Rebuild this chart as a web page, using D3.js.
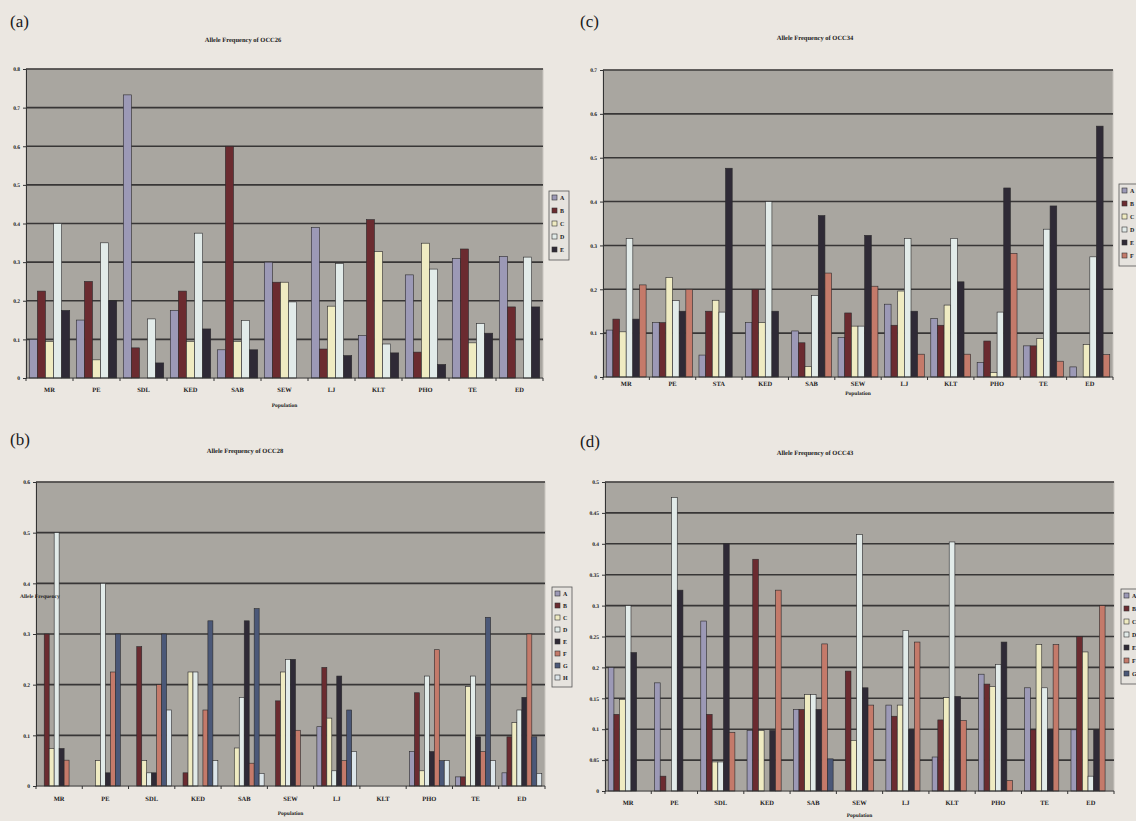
<!DOCTYPE html>
<html>
<head>
<meta charset="utf-8">
<script src="https://cdn.jsdelivr.net/npm/d3@7"></script>
<style>
  body { margin: 0; background: #ebe7e1; }
  svg { display: block; text-rendering: geometricPrecision; }
  text { font-family: "Liberation Serif", "DejaVu Serif", serif; fill: #1a1a1a; }
  .tick-label, .cat-label, .axis-title, .chart-title, .legend text { font-weight: bold; }
</style>
</head>
<body>
<div id="chart"></div>
<script>
// populations along the x axis
const populations = ['MR', 'PE', 'SDL', 'KED', 'SAB', 'SEW', 'LJ', 'KLT', 'PHO', 'TE', 'ED']
const populationsOCC34 = ['MR', 'PE', 'STA', 'KED', 'SAB', 'SEW', 'LJ', 'KLT', 'PHO', 'TE', 'ED']

// alleles (series) of each locus
const allelesOCC26 = ['A', 'B', 'C', 'D', 'E']
const allelesOCC34 = ['A', 'B', 'C', 'D', 'E', 'F']
const allelesOCC28 = ['A', 'B', 'C', 'D', 'E', 'F', 'G', 'H']
const allelesOCC43 = ['A', 'B', 'C', 'D', 'E', 'F', 'G']

// frequencies, one row per population, one column per allele
const freqOCC26 = [
  [0.10, 0.225, 0.095, 0.40, 0.175],
  [0.15, 0.25, 0.047, 0.35, 0.20],
  [0.733, 0.078, 0, 0.153, 0.039],
  [0.175, 0.225, 0.095, 0.375, 0.127],
  [0.073, 0.60, 0.095, 0.149, 0.073],
  [0.30, 0.248, 0.248, 0.197, 0],
  [0.39, 0.075, 0.186, 0.296, 0.058],
  [0.11, 0.41, 0.327, 0.088, 0.065],
  [0.267, 0.067, 0.349, 0.282, 0.035],
  [0.309, 0.334, 0.091, 0.141, 0.116],
  [0.315, 0.184, 0, 0.313, 0.184]
]
const freqOCC34 = [
  [0.107, 0.132, 0.103, 0.316, 0.132, 0.21],
  [0.124, 0.124, 0.227, 0.174, 0.15, 0.20],
  [0.05, 0.15, 0.175, 0.148, 0.476, 0],
  [0.124, 0.20, 0.124, 0.40, 0.15, 0],
  [0.105, 0.078, 0.024, 0.186, 0.368, 0.237],
  [0.09, 0.146, 0.116, 0.116, 0.323, 0.207],
  [0.166, 0.118, 0.196, 0.316, 0.15, 0.052],
  [0.133, 0.118, 0.164, 0.316, 0.217, 0.052],
  [0.033, 0.082, 0.01, 0.148, 0.431, 0.282],
  [0.071, 0.071, 0.088, 0.337, 0.39, 0.036],
  [0.023, 0, 0.074, 0.274, 0.572, 0.051]
]
const freqOCC28 = [
  [0, 0.30, 0.074, 0.50, 0.074, 0.051, 0, 0],
  [0, 0, 0.05, 0.40, 0.026, 0.225, 0.30, 0],
  [0, 0.275, 0.05, 0.026, 0.026, 0.20, 0.30, 0.15],
  [0, 0.026, 0.225, 0.225, 0, 0.15, 0.326, 0.05],
  [0, 0, 0.075, 0.175, 0.326, 0.045, 0.35, 0.025],
  [0, 0.168, 0.225, 0.25, 0.25, 0.11, 0, 0],
  [0.117, 0.234, 0.134, 0.03, 0.217, 0.05, 0.15, 0.068],
  [0, 0, 0, 0, 0, 0, 0, 0],
  [0.068, 0.184, 0.03, 0.217, 0.068, 0.269, 0.05, 0.05],
  [0.018, 0.018, 0.196, 0.217, 0.097, 0.068, 0.333, 0.05],
  [0.026, 0.097, 0.125, 0.15, 0.175, 0.30, 0.097, 0.025]
]
const freqOCC43 = [
  [0.20, 0.124, 0.148, 0.30, 0.224, 0, 0],
  [0.175, 0.024, 0, 0.475, 0.325, 0, 0],
  [0.275, 0.124, 0.047, 0.047, 0.40, 0.095, 0],
  [0.098, 0.375, 0.098, 0, 0.098, 0.325, 0],
  [0.132, 0.132, 0.156, 0.156, 0.132, 0.238, 0.052],
  [0, 0.194, 0.082, 0.415, 0.167, 0.139, 0],
  [0.139, 0.121, 0.139, 0.26, 0.099, 0.241, 0],
  [0.055, 0.115, 0.151, 0.403, 0.153, 0.114, 0],
  [0.189, 0.173, 0.169, 0.205, 0.241, 0.017, 0],
  [0.167, 0.099, 0.237, 0.167, 0.099, 0.237, 0],
  [0.099, 0.25, 0.225, 0.024, 0.099, 0.30, 0]
]

// y axis ticks
const ticksOCC26 = [0, 0.1, 0.2, 0.3, 0.4, 0.5, 0.6, 0.7, 0.8]
const ticksOCC34 = [0, 0.1, 0.2, 0.3, 0.4, 0.5, 0.6, 0.7]
const ticksOCC28 = [0, 0.1, 0.2, 0.3, 0.4, 0.5, 0.6]
const ticksOCC43 = [0, 0.05, 0.1, 0.15, 0.2, 0.25, 0.3, 0.35, 0.4, 0.45, 0.5]

const alleleColors = {
  A: '#9c99b6', B: '#6b2b30', C: '#efebc2', D: '#e2ebe9',
  E: '#2f2a36', F: '#c47a6a', G: '#4b5878', H: '#dde6ea'
}

const panels = [
  { letter: '(a)', lx: 10, ly: 27, title: 'Allele Frequency of OCC26', tx: 243, ty: 42,
    cats: populations, alleles: allelesOCC26, values: freqOCC26, ticks: ticksOCC26,
    plot: { x: 26, y: 69, w: 517, h: 309 }, catY: 392, popY: 407,
    legend: { x: 549, y: 191, row: 13 } },
  { letter: '(c)', lx: 580, ly: 27, title: 'Allele Frequency of OCC34', tx: 815, ty: 40,
    cats: populationsOCC34, alleles: allelesOCC34, values: freqOCC34, ticks: ticksOCC34,
    plot: { x: 603, y: 70, w: 510, h: 307 }, catY: 386, popY: 395,
    legend: { x: 1119, y: 184, row: 13 } },
  { letter: '(b)', lx: 10, ly: 445, title: 'Allele Frequency of OCC28', tx: 245, ty: 453,
    cats: populations, alleles: allelesOCC28, values: freqOCC28, ticks: ticksOCC28,
    plot: { x: 36, y: 482, w: 509, h: 304 }, catY: 801, popY: 815,
    legend: { x: 552, y: 587, row: 12 }, yTitle: { x: 20, y: 598 } },
  { letter: '(d)', lx: 580, ly: 447, title: 'Allele Frequency of OCC43', tx: 815, ty: 455,
    cats: populations, alleles: allelesOCC43, values: freqOCC43, ticks: ticksOCC43,
    plot: { x: 605, y: 482, w: 509, h: 309 }, catY: 805, popY: 817,
    legend: { x: 1121, y: 589, row: 13 } }
]

const width = 1136
const height = 821

const svg = d3.select('#chart')
  .append('svg')
  .attr('width', width)
  .attr('height', height)

svg.append('rect')
  .attr('width', width)
  .attr('height', height)
  .attr('fill', '#ebe7e1')

panels.forEach(drawPanel)

function drawPanel(p) {
  const g = svg.append('g')
  const { x, y, w, h } = p.plot
  const yMax = p.ticks[p.ticks.length - 1]

  const x0 = d3.scaleBand()
    .domain(p.cats)
    .range([x, x + w])
    .paddingInner(0.14)
    .paddingOuter(0.07)

  const x1 = d3.scaleBand()
    .domain(p.alleles)
    .range([0, x0.bandwidth()])

  const yScale = d3.scaleLinear()
    .domain([0, yMax])
    .range([y + h, y])

  g.append('text')
    .attr('x', p.lx)
    .attr('y', p.ly)
    .attr('font-size', 17)
    .text(p.letter)

  g.append('text')
    .attr('class', 'chart-title')
    .attr('x', p.tx)
    .attr('y', p.ty)
    .attr('text-anchor', 'middle')
    .attr('font-size', 6.5)
    .text(p.title)

  // plot area
  g.append('rect')
    .attr('x', x)
    .attr('y', y)
    .attr('width', w)
    .attr('height', h)
    .attr('fill', '#a9a6a0')
    .attr('stroke', '#c9c6c0')
    .attr('stroke-width', 1)

  // gridlines
  g.append('g')
    .selectAll('line')
    .data(p.ticks.slice(1))
    .join('line')
    .attr('x1', x)
    .attr('x2', x + w)
    .attr('y1', d => yScale(d))
    .attr('y2', d => yScale(d))
    .attr('stroke', '#383636')
    .attr('stroke-width', 1.6)

  // bars
  g.append('g')
    .selectAll('g')
    .data(p.values)
    .join('g')
    .attr('transform', (row, i) => `translate(${x0(p.cats[i])},0)`)
    .selectAll('rect')
    .data(row => row.map((v, j) => ({ allele: p.alleles[j], v })))
    .join('rect')
    .filter(d => d.v > 0)
    .attr('x', d => x1(d.allele))
    .attr('width', x1.bandwidth())
    .attr('y', d => yScale(d.v))
    .attr('height', d => yScale(0) - yScale(d.v))
    .attr('fill', d => alleleColors[d.allele])
    .attr('stroke', '#2b2a2c')
    .attr('stroke-width', 0.6)

  // y axis
  const yAxis = d3.axisLeft(yScale)
    .tickValues(p.ticks)
    .tickSize(3)
    .tickFormat(d => d3.format('~g')(d))
  const ya = g.append('g')
    .attr('transform', `translate(${x},0)`)
    .call(yAxis)
  ya.select('.domain').attr('stroke', '#333')
  ya.selectAll('line').attr('stroke', '#333')
  ya.selectAll('text')
    .attr('class', 'tick-label')
    .attr('font-size', 5.5)
    .attr('font-family', '"Liberation Serif", serif')
    .attr('fill', '#1a1a1a')

  // x axis line with ticks between populations
  g.append('line')
    .attr('x1', x)
    .attr('x2', x + w)
    .attr('y1', y + h)
    .attr('y2', y + h)
    .attr('stroke', '#333')
  const step = x0.step()
  g.append('g')
    .selectAll('line')
    .data(d3.range(p.cats.length + 1))
    .join('line')
    .attr('x1', i => x + i * step)
    .attr('x2', i => x + i * step)
    .attr('y1', y + h)
    .attr('y2', y + h + 3)
    .attr('stroke', '#333')

  g.append('g')
    .selectAll('text')
    .data(p.cats)
    .join('text')
    .attr('class', 'cat-label')
    .attr('x', d => x0(d) + x0.bandwidth() / 2)
    .attr('y', p.catY)
    .attr('text-anchor', 'middle')
    .attr('font-size', 6.5)
    .text(d => d)

  g.append('text')
    .attr('class', 'axis-title')
    .attr('x', x + w / 2)
    .attr('y', p.popY)
    .attr('text-anchor', 'middle')
    .attr('font-size', 5.5)
    .text('Population')

  if (p.yTitle) {
    g.append('text')
      .attr('class', 'axis-title')
      .attr('x', p.yTitle.x)
      .attr('y', p.yTitle.y)
      .attr('font-size', 5.5)
      .text('Allele Frequency')
  }

  // legend
  const lg = g.append('g')
    .attr('class', 'legend')
    .attr('transform', `translate(${p.legend.x},${p.legend.y})`)
  lg.append('rect')
    .attr('width', 20)
    .attr('height', p.alleles.length * p.legend.row + 4)
    .attr('fill', '#e6e3de')
    .attr('stroke', '#555')
    .attr('stroke-width', 0.8)
  const item = lg.selectAll('g')
    .data(p.alleles)
    .join('g')
    .attr('transform', (d, i) => `translate(3,${4 + i * p.legend.row})`)
  item.append('rect')
    .attr('width', 5)
    .attr('height', 5)
    .attr('fill', d => alleleColors[d])
    .attr('stroke', '#333')
    .attr('stroke-width', 0.6)
  item.append('text')
    .attr('x', 8)
    .attr('y', 5)
    .attr('font-size', 6)
    .text(d => d)
}
</script>
</body>
</html>
